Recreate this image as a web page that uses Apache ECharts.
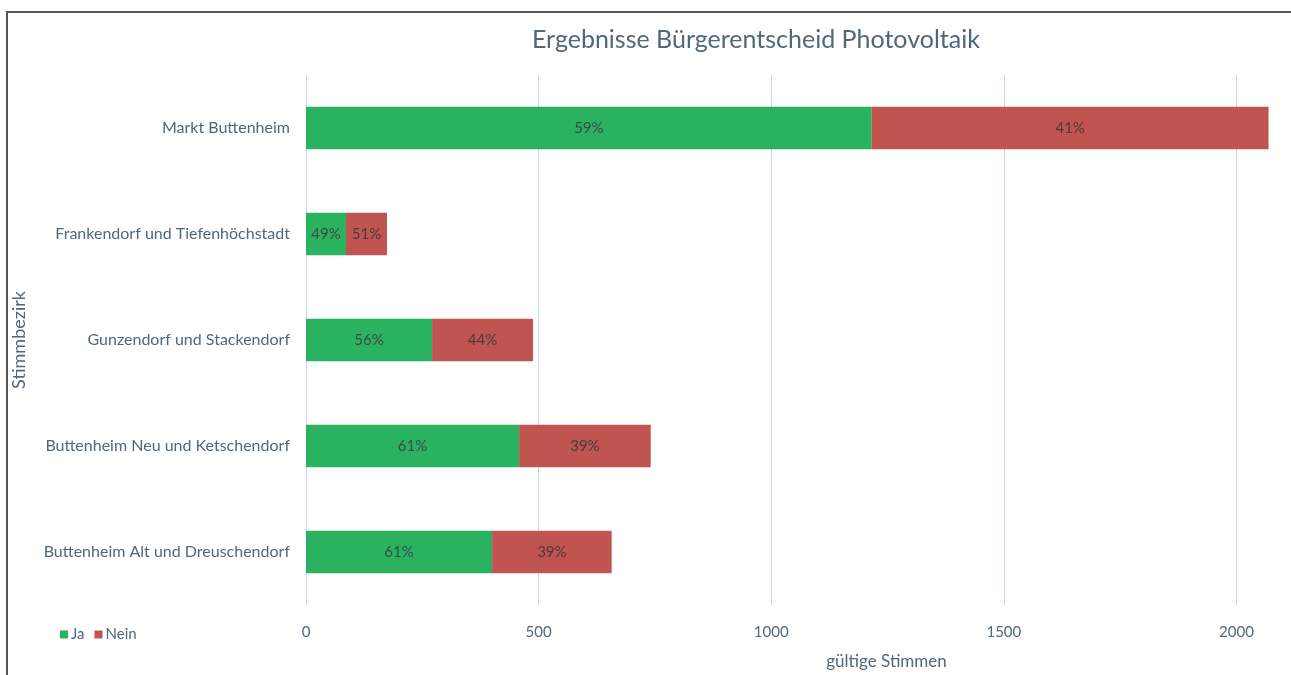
<!DOCTYPE html>
<html>
<head>
<meta charset="utf-8">
<script src="https://cdn.jsdelivr.net/npm/echarts@6/dist/echarts.min.js"></script>
<style>
  html, body { margin: 0; padding: 0; background: #fff; overflow: hidden; }
  #wrap { position: relative; width: 1291px; height: 675px; }
  #chart { width: 1291px; height: 675px; }
  /* Rahmen oben und links */
  #rahmen {
    position: absolute; left: 6px; top: 11px; width: 1285px; height: 664px;
    box-sizing: border-box; border-top: 2px solid #555; border-left: 2px solid #555;
    pointer-events: none;
  }
</style>
</head>
<body>
<div id="wrap">
  <div id="chart"></div>
  <div id="rahmen"></div>
</div>
<script>
// Stimmbezirke, von oben nach unten
const bezirke = [
    'Markt Buttenheim',
    'Frankendorf und Tiefenhöchstadt',
    'Gunzendorf und Stackendorf',
    'Buttenheim Neu und Ketschendorf',
    'Buttenheim Alt und Dreuschendorf'
]
const jaStimmen = [1216, 86, 271, 458, 400]
const neinStimmen = [853, 88, 217, 283, 257]
const jaProzent = ['59%', '49%', '56%', '61%', '61%']
const neinProzent = ['41%', '51%', '44%', '39%', '39%']

const textColor = '#50687a'
const fontFam = 'Lato, "Open Sans", sans-serif'

const chartInstance = echarts.init(document.getElementById('chart'))

const option = {
    backgroundColor: '#fff',
    textStyle: { fontFamily: fontFam },
    title: {
        text: 'Ergebnisse Bürgerentscheid Photovoltaik',
        left: 527,
        top: 22,
        textStyle: {
            color: textColor,
            fontSize: 25,
            fontWeight: 'normal',
            fontFamily: fontFam
        }
    },
    legend: {
        data: ['Ja', 'Nein'],
        left: 55,
        top: 622,
        itemWidth: 8,
        itemHeight: 8,
        itemGap: 10,
        icon: 'rect',
        textStyle: { color: textColor, fontSize: 15, padding: [0, 0, 0, -2] }
    },
    grid: {
        left: 306,
        right: 8,
        top: 75,
        bottom: 70,
        containLabel: false,
        outerBoundsMode: 'none'
    },
    xAxis: {
        type: 'value',
        min: 0,
        max: 2100,
        interval: 500,
        name: 'gültige Stimmen',
        nameLocation: 'middle',
        nameGap: 48,
        nameTextStyle: { color: textColor, fontSize: 17, padding: [0, 0, 0, 184] },
        axisLine: { show: false },
        axisTick: { show: false },
        axisLabel: {
            color: textColor,
            fontSize: 15,
            margin: 20,
            showMaxLabel: false,
            formatter: v => String(v)
        },
        splitLine: {
            show: true,
            showMaxLine: false,
            lineStyle: { color: '#c6d9e8', width: 1 }
        }
    },
    yAxis: {
        type: 'category',
        inverse: true,
        data: bezirke,
        name: 'Stimmbezirk',
        nameLocation: 'middle',
        nameGap: 278,
        nameTextStyle: { color: textColor, fontSize: 18 },
        axisLine: { show: false },
        axisTick: { show: false },
        axisLabel: { color: textColor, fontSize: 16, margin: 16 }
    },
    series: [
        {
            name: 'Ja',
            type: 'bar',
            stack: 'stimmen',
            barWidth: '40%',
            data: jaStimmen,
            itemStyle: { color: '#2bb261' },
            label: {
                show: true,
                position: 'inside',
                color: '#3a4a48',
                fontSize: 15,
                formatter: p => jaProzent[p.dataIndex]
            }
        },
        {
            name: 'Nein',
            type: 'bar',
            stack: 'stimmen',
            barWidth: '40%',
            data: neinStimmen,
            itemStyle: { color: '#bf5450' },
            label: {
                show: true,
                position: 'inside',
                color: '#4a3a3a',
                fontSize: 15,
                formatter: p => neinProzent[p.dataIndex]
            }
        }
    ]
}
chartInstance.setOption(option)
</script>
</body>
</html>
